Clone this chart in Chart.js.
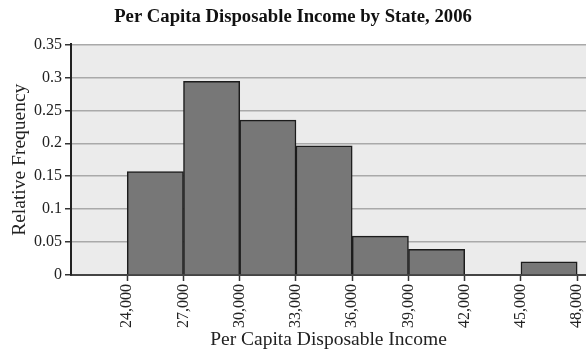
<!DOCTYPE html>
<html>
<head>
<meta charset="utf-8">
<script src="https://cdn.jsdelivr.net/npm/chart.js@4/dist/chart.umd.min.js"></script>
<style>
  html, body { margin: 0; padding: 0; background: #fff; }
  #wrap { width: 586px; height: 354px; }
</style>
</head>
<body>
<div id="wrap"><canvas id="c" width="586" height="354"></canvas></div>
<script>
// Income class boundaries (dollars) and the relative frequency of states in each class
const binEdges = [24000, 27000, 30000, 33000, 36000, 39000, 42000, 45000, 48000];
const relFreq = [0.157, 0.294, 0.235, 0.196, 0.059, 0.039, 0, 0.020];
const yTicks = [0, 0.05, 0.1, 0.15, 0.2, 0.25, 0.3, 0.35];

const SERIF = "'Liberation Serif', 'Times New Roman', serif";

// each bar sits at the centre of its class and spans the whole class width
const bars = relFreq.map((v, i) => ({ x: (binEdges[i] + binEdges[i + 1]) / 2, y: v }));

// shade the plotting region
const plotBackground = {
  id: 'plotBackground',
  beforeDraw(chart) {
    const { ctx, chartArea: a } = chart;
    ctx.save();
    ctx.fillStyle = '#ebebeb';
    ctx.fillRect(a.left, a.top, a.right - a.left, a.bottom - a.top);
    ctx.restore();
  }
};

new Chart(document.getElementById('c'), {
  type: 'bar',
  data: {
    datasets: [{
      data: bars,
      backgroundColor: '#777777',
      borderColor: '#1c1c1c',
      borderWidth: 1.5,
      barPercentage: 1,
      categoryPercentage: 1
    }]
  },
  options: {
    responsive: false,
    devicePixelRatio: 1,
    animation: false,
    layout: { padding: 0 },
    plugins: {
      legend: { display: false },
      tooltip: { enabled: false },
      title: {
        display: true,
        text: 'Per Capita Disposable Income by State, 2006',
        color: '#111',
        font: { family: SERIF, size: 18.7, weight: 'bold' },
        padding: { top: 6, bottom: 16 }
      }
    },
    scales: {
      x: {
        type: 'linear',
        offset: false,
        min: 21000,
        max: 48470,
        afterBuildTicks(scale) {
          scale.ticks = binEdges.map(v => ({ value: v }));
        },
        afterFit(scale) {
          scale.height = 79;
          // let the plot run to the right edge of the canvas
          scale.paddingLeft = 0;
          scale.paddingRight = 0;
        },
        ticks: {
          autoSkip: false,
          minRotation: 90,
          maxRotation: 90,
          padding: 3,
          color: '#222',
          font: { family: SERIF, size: 16 },
          callback: v => v.toLocaleString('en-US')
        },
        grid: {
          offset: false,
          drawOnChartArea: false,
          drawTicks: true,
          tickLength: 6,
          tickColor: '#333',
          tickWidth: 1.5
        },
        border: { color: '#444', width: 2 },
        title: {
          display: true,
          text: 'Per Capita Disposable Income',
          color: '#222',
          font: { family: SERIF, size: 19.5 },
          padding: { top: 2, bottom: 2 }
        }
      },
      y: {
        min: 0,
        max: 0.35,
        afterBuildTicks(scale) {
          scale.ticks = yTicks.map(v => ({ value: v }));
        },
        afterFit(scale) { scale.width = 71; },
        ticks: {
          padding: 3,
          color: '#222',
          font: { family: SERIF, size: 16 },
          callback: v => String(parseFloat(v.toFixed(2)))
        },
        grid: {
          color: '#a9a9a9',
          lineWidth: 1.5,
          tickLength: 6,
          tickColor: '#333',
          tickWidth: 1.5
        },
        border: { color: '#222', width: 2 },
        title: {
          display: true,
          text: 'Relative Frequency',
          color: '#222',
          font: { family: SERIF, size: 19.5 },
          padding: { top: 8, bottom: 2 }
        }
      }
    }
  },
  plugins: [plotBackground]
});
</script>
</body>
</html>
